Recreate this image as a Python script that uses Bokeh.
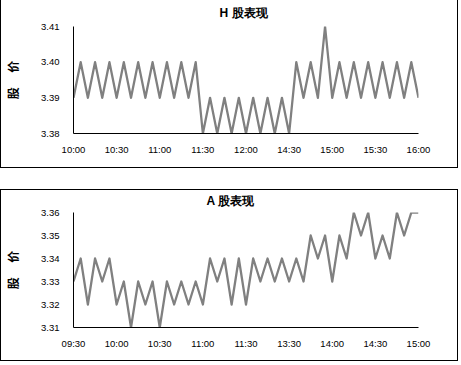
from bokeh.plotting import figure
from bokeh.layouts import column
from bokeh.models import Range1d, FixedTicker, PrintfTickFormatter
from bokeh.embed import file_html
from bokeh.resources import INLINE

h_title = "H 股表现"
a_title = "A 股表现"
y_label = "股　 价"

h_xlabels = ["10:00", "10:30", "11:00", "11:30", "12:00", "14:30", "15:00", "15:30", "16:00"]
a_xlabels = ["09:30", "10:00", "10:30", "11:00", "11:30", "13:30", "14:00", "14:30", "15:00"]

h_yticks = [3.38, 3.39, 3.40, 3.41]
a_yticks = [3.31, 3.32, 3.33, 3.34, 3.35, 3.36]

h_prices = [3.39, 3.40, 3.39, 3.40, 3.39, 3.40, 3.39, 3.40, 3.39, 3.40, 3.39, 3.40, 3.39, 3.40, 3.39, 3.40, 3.39, 3.40,
            3.38, 3.39, 3.38, 3.39, 3.38, 3.39, 3.38, 3.39, 3.38, 3.39, 3.38, 3.39, 3.38,
            3.40, 3.39, 3.40, 3.39, 3.41, 3.39, 3.40, 3.39, 3.40, 3.39, 3.40, 3.39, 3.40, 3.39, 3.40, 3.39, 3.40, 3.39]

a_prices = [3.33, 3.34, 3.32, 3.34, 3.33, 3.34, 3.32, 3.33, 3.31, 3.33,
            3.32, 3.33, 3.31, 3.33, 3.32, 3.33, 3.32, 3.33, 3.32, 3.34,
            3.33, 3.34, 3.32, 3.34, 3.32, 3.34, 3.33, 3.34, 3.33, 3.34,
            3.33, 3.34, 3.33, 3.35, 3.34, 3.35, 3.33, 3.35, 3.34, 3.36,
            3.35, 3.36, 3.34, 3.35, 3.34, 3.36, 3.35, 3.36, 3.36]

CJK = "Noto Sans CJK SC"
LAT = "Liberation Sans"


def make(title, xlabels, yticks, prices, height, top, bottom, title_offset, title_standoff, border_top):
    n = len(prices)
    step = (n - 1) // (len(xlabels) - 1)
    xs = list(range(n))
    p = figure(width=458, height=height, output_backend="svg", toolbar_location=None,
               x_range=Range1d(0, n - 1), y_range=Range1d(yticks[0], yticks[-1]),
               min_border_left=70, min_border_right=41, min_border_top=top, min_border_bottom=bottom)
    p.line(xs, prices, line_color="#808080", line_width=2.3, line_join="round")
    p.xgrid.visible = False
    p.ygrid.visible = False
    p.outline_line_color = None
    p.background_fill_color = "white"
    p.border_fill_color = "white"

    p.title.text = title
    p.title.align = "left"
    p.title.vertical_align = "top"
    p.title.offset = title_offset
    p.title.standoff = title_standoff
    p.title.text_font = LAT
    p.title.text_font_size = "12px"
    p.title.text_font_style = "bold"
    p.title.text_color = "black"

    xa = p.xaxis[0]
    xa.ticker = FixedTicker(ticks=list(range(0, n, step)))
    xa.major_label_overrides = {i * step: lab for i, lab in enumerate(xlabels)}
    xa.major_tick_line_color = None
    xa.minor_tick_line_color = None
    xa.major_tick_out = 0
    xa.major_tick_in = 0
    xa.axis_line_color = "black"
    xa.axis_line_width = 1
    xa.major_label_text_font = LAT
    xa.major_label_text_font_size = "9.5px"
    xa.major_label_text_color = "black"
    xa.major_label_standoff = 10

    ya = p.yaxis[0]
    ya.ticker = FixedTicker(ticks=yticks)
    ya.formatter = PrintfTickFormatter(format="%.2f")
    ya.major_tick_line_color = None
    ya.minor_tick_line_color = None
    ya.major_tick_out = 0
    ya.major_tick_in = 0
    ya.axis_line_color = "black"
    ya.axis_line_width = 1
    ya.major_label_text_font = LAT
    ya.major_label_text_font_size = "9.5px"
    ya.major_label_text_color = "black"
    ya.major_label_standoff = 14
    ya.axis_label = y_label
    ya.axis_label_text_font = CJK
    ya.axis_label_text_font_size = "12px"
    ya.axis_label_text_font_style = "bold"
    ya.axis_label_text_color = "black"
    ya.axis_label_standoff = 17

    st = {"border-left": "1px solid black", "border-right": "1px solid black",
          "border-bottom": "1px solid black"}
    if border_top:
        st["border-top"] = "1px solid black"
    p.styles = st
    return p


p1 = make(h_title, h_xlabels, h_yticks, h_prices, 168, 26, 35, 146, 10, False)
p2 = make(a_title, a_xlabels, a_yticks, a_prices, 172, 22, 35, 133, 6, True)

layout = column(p1, p2, spacing=21)
open("out.html", "w").write(file_html(layout, INLINE))
